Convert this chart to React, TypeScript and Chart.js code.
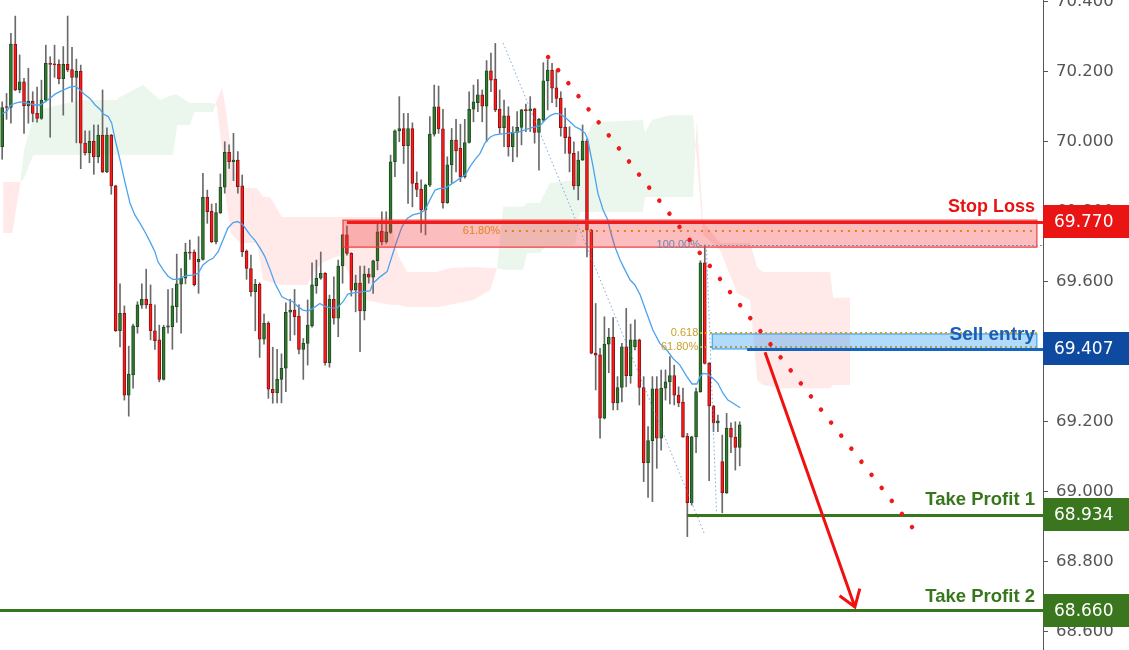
import React, { useEffect, useRef } from 'react';
import { Chart, registerables } from 'chart.js';

Chart.register(...registerables);

// ---------- candle data (one entry per bar, left to right) ----------
const OPEN = [
  69.985, 70.098, 70.097, 70.278, 70.147, 70.170, 70.102, 70.115, 70.080, 70.066,
  70.118, 70.223, 70.220, 70.220, 70.179, 70.220, 70.205, 70.183, 70.200, 69.995,
  69.968, 70.000, 69.956, 70.018, 69.913, 70.018, 69.873, 69.459, 69.509, 69.275,
  69.333, 69.471, 69.532, 69.549, 69.535, 69.459, 69.433, 69.320, 69.469, 69.471,
  69.528, 69.592, 69.609, 69.684, 69.684, 69.656, 69.663, 69.840, 69.801, 69.713,
  69.796, 69.869, 69.969, 69.942, 69.947, 69.873, 69.687, 69.637, 69.571, 69.592,
  69.435, 69.480, 69.292, 69.282, 69.320, 69.352, 69.512, 69.518, 69.501, 69.406,
  69.423, 69.473, 69.588, 69.609, 69.623, 69.368, 69.549, 69.495, 69.644, 69.733,
  69.680, 69.575, 69.595, 69.516, 69.621, 69.612, 69.659, 69.744, 69.713, 69.740,
  69.942, 70.030, 70.037, 69.988, 70.037, 69.880, 69.863, 69.804, 69.875, 70.021,
  70.099, 70.036, 69.825, 69.933, 70.004, 69.980, 69.899, 69.997, 70.092, 70.111,
  70.133, 70.101, 70.202, 70.178, 70.092, 70.039, 70.073, 69.985, 70.026, 70.040,
  70.090, 70.088, 70.093, 70.026, 70.061, 70.173, 70.204, 70.153, 70.123, 70.041,
  70.013, 69.966, 69.873, 69.947, 70.001, 69.747, 69.395, 69.390, 69.209, 69.421,
  69.440, 69.253, 69.297, 69.413, 69.331, 69.413, 69.433, 69.297, 69.082, 69.145,
  69.293, 69.152, 69.295, 69.313, 69.331, 69.275, 69.255, 69.158, 68.968, 69.156,
  69.285, 69.653, 69.366, 69.244, 69.196, 69.085, 68.996, 69.180, 69.155, 69.126,
];
const HIGH = [
  70.113, 70.137, 70.309, 70.358, 70.247, 70.180, 70.209, 70.142, 70.155, 70.175,
  70.275, 70.242, 70.275, 70.233, 70.271, 70.358, 70.269, 70.235, 70.218, 70.030,
  70.030, 70.047, 70.047, 70.147, 70.039, 70.020, 69.875, 69.593, 69.530, 69.415,
  69.478, 69.542, 69.593, 69.635, 69.590, 69.533, 69.475, 69.475, 69.577, 69.580,
  69.678, 69.637, 69.709, 69.718, 69.690, 69.728, 69.909, 69.861, 69.821, 69.823,
  69.907, 69.999, 69.990, 70.023, 69.971, 69.904, 69.690, 69.675, 69.606, 69.596,
  69.507, 69.485, 69.412, 69.406, 69.393, 69.539, 69.549, 69.577, 69.533, 69.437,
  69.547, 69.653, 69.661, 69.684, 69.625, 69.561, 69.613, 69.661, 69.735, 69.758,
  69.682, 69.618, 69.644, 69.644, 69.637, 69.661, 69.771, 69.799, 69.799, 69.961,
  70.033, 70.128, 70.080, 70.080, 70.053, 69.913, 69.890, 69.878, 70.071, 70.161,
  70.158, 70.092, 69.956, 70.037, 70.063, 70.049, 70.063, 70.142, 70.161, 70.177,
  70.147, 70.231, 70.252, 70.280, 70.147, 70.118, 70.099, 70.042, 70.085, 70.092,
  70.107, 70.128, 70.095, 70.066, 70.225, 70.233, 70.223, 70.204, 70.142, 70.095,
  70.042, 69.999, 69.971, 70.047, 70.007, 69.749, 69.537, 69.409, 69.499, 69.466,
  69.497, 69.328, 69.423, 69.523, 69.478, 69.490, 69.435, 69.328, 69.185, 69.328,
  69.328, 69.347, 69.347, 69.385, 69.361, 69.299, 69.295, 69.166, 69.158, 69.295,
  69.659, 69.704, 69.368, 69.246, 69.218, 69.161, 69.223, 69.196, 69.199, 69.199,
];
const LOW = [
  69.949, 70.063, 70.052, 70.145, 70.139, 70.023, 70.052, 70.056, 70.055, 70.063,
  70.113, 70.012, 70.183, 70.164, 70.075, 70.199, 70.113, 69.996, 69.922, 69.961,
  69.939, 69.906, 69.939, 69.911, 69.911, 69.849, 69.457, 69.413, 69.261, 69.215,
  69.295, 69.452, 69.523, 69.523, 69.433, 69.406, 69.313, 69.318, 69.452, 69.406,
  69.483, 69.452, 69.593, 69.663, 69.587, 69.566, 69.661, 69.766, 69.711, 69.707,
  69.794, 69.852, 69.923, 69.888, 69.852, 69.671, 69.606, 69.558, 69.459, 69.383,
  69.421, 69.266, 69.252, 69.253, 69.253, 69.285, 69.431, 69.447, 69.393, 69.320,
  69.361, 69.469, 69.566, 69.606, 69.361, 69.355, 69.478, 69.442, 69.595, 69.675,
  69.558, 69.513, 69.399, 69.490, 69.595, 69.566, 69.633, 69.704, 69.709, 69.737,
  69.899, 69.999, 69.937, 69.823, 69.813, 69.842, 69.740, 69.733, 69.871, 70.015,
  70.023, 69.809, 69.823, 69.880, 69.913, 69.885, 69.895, 69.995, 70.056, 70.085,
  70.056, 69.999, 70.142, 70.085, 70.023, 69.985, 69.958, 69.942, 69.956, 69.990,
  70.028, 70.028, 69.995, 69.918, 70.056, 70.090, 70.111, 70.099, 70.015, 69.966,
  69.913, 69.863, 69.833, 69.945, 69.670, 69.393, 69.290, 69.152, 69.207, 69.339,
  69.233, 69.233, 69.256, 69.299, 69.309, 69.404, 69.247, 69.028, 68.983, 68.971,
  69.066, 69.118, 69.261, 69.250, 69.247, 69.242, 69.154, 68.871, 68.961, 69.111,
  69.283, 69.364, 69.031, 69.171, 69.171, 68.939, 68.994, 69.111, 69.061, 69.073,
];
const CLOSE = [
  70.097, 70.097, 70.278, 70.147, 70.170, 70.102, 70.115, 70.080, 70.066, 70.118,
  70.223, 70.220, 70.219, 70.179, 70.220, 70.205, 70.183, 70.200, 69.995, 69.968,
  70.000, 69.956, 70.018, 69.913, 70.018, 69.873, 69.459, 69.509, 69.275, 69.335,
  69.473, 69.533, 69.549, 69.533, 69.459, 69.431, 69.320, 69.469, 69.473, 69.530,
  69.593, 69.609, 69.684, 69.681, 69.591, 69.663, 69.840, 69.799, 69.713, 69.797,
  69.869, 69.969, 69.942, 69.947, 69.871, 69.685, 69.637, 69.571, 69.592, 69.435,
  69.480, 69.292, 69.282, 69.320, 69.352, 69.512, 69.518, 69.499, 69.406, 69.423,
  69.475, 69.590, 69.609, 69.623, 69.368, 69.549, 69.495, 69.644, 69.733, 69.680,
  69.575, 69.595, 69.516, 69.621, 69.612, 69.659, 69.742, 69.713, 69.742, 69.942,
  70.030, 70.037, 69.988, 70.037, 69.880, 69.863, 69.804, 69.875, 70.021, 70.099,
  70.036, 69.825, 69.933, 70.004, 69.973, 69.899, 69.997, 70.092, 70.113, 70.133,
  70.101, 70.202, 70.175, 70.090, 70.039, 70.073, 69.985, 70.026, 70.040, 70.090,
  70.088, 70.093, 70.026, 70.063, 70.173, 70.204, 70.152, 70.123, 70.039, 70.011,
  69.966, 69.873, 69.947, 70.001, 69.747, 69.395, 69.389, 69.209, 69.421, 69.440,
  69.253, 69.297, 69.413, 69.331, 69.433, 69.433, 69.297, 69.082, 69.145, 69.293,
  69.152, 69.295, 69.313, 69.331, 69.275, 69.253, 69.156, 68.968, 69.156, 69.285,
  69.653, 69.366, 69.244, 69.196, 69.202, 68.996, 69.180, 69.155, 69.126, 69.190,
];

// ---------- moving average (bar index, price) ----------
const MA_POINTS = [
  [0.1, 70.080], [1.0, 70.085], [1.8, 70.101], [2.9, 70.109], [4.1, 70.113], [5.2, 70.111],
  [6.4, 70.107], [7.5, 70.104], [8.7, 70.104], [9.8, 70.113], [11.0, 70.123], [12.1, 70.135],
  [13.2, 70.142], [14.4, 70.149], [15.5, 70.155], [16.9, 70.158], [17.8, 70.147], [19.0, 70.133],
  [20.1, 70.123], [21.3, 70.104], [22.4, 70.092], [23.2, 70.078], [24.3, 70.071], [25.1, 70.052],
  [25.9, 70.004], [27.0, 69.947], [28.1, 69.885], [29.3, 69.823], [30.4, 69.790], [31.6, 69.766],
  [32.7, 69.742], [33.9, 69.713], [35.0, 69.685], [35.7, 69.656], [36.9, 69.633], [38.0, 69.615],
  [39.1, 69.606], [40.3, 69.606], [41.4, 69.613], [42.6, 69.617], [43.7, 69.618], [44.9, 69.623],
  [46.0, 69.647], [47.2, 69.659], [48.3, 69.666], [49.5, 69.685], [50.6, 69.718], [51.7, 69.752],
  [52.9, 69.768], [54.0, 69.771], [55.2, 69.761], [56.8, 69.733], [57.9, 69.718], [59.1, 69.695],
  [60.2, 69.671], [61.4, 69.633], [62.5, 69.595], [64.1, 69.556], [65.2, 69.549], [66.6, 69.542],
  [67.8, 69.528], [68.9, 69.518], [70.1, 69.515], [71.2, 69.523], [72.8, 69.537], [74.0, 69.528],
  [75.1, 69.525], [76.7, 69.523], [78.1, 69.542], [79.2, 69.564], [80.8, 69.568], [82.7, 69.571],
  [84.3, 69.573], [85.0, 69.595], [86.6, 69.613], [88.2, 69.628], [89.3, 69.671], [90.5, 69.718],
  [91.6, 69.756], [92.8, 69.780], [94.1, 69.790], [95.7, 69.795], [96.9, 69.804], [98.0, 69.833],
  [99.2, 69.861], [100.3, 69.866], [101.5, 69.866], [102.6, 69.875], [103.8, 69.885], [104.9, 69.895],
  [106.1, 69.904], [107.2, 69.928], [108.3, 69.947], [109.5, 69.966], [110.6, 69.995], [111.8, 70.012],
  [112.9, 70.019], [114.1, 70.021], [115.7, 70.023], [117.1, 70.025], [118.7, 70.028], [120.3, 70.035],
  [121.6, 70.040], [123.2, 70.044], [124.4, 70.061], [125.5, 70.073], [126.7, 70.080], [127.8, 70.078],
  [129.0, 70.069], [130.1, 70.056], [131.3, 70.042], [132.4, 70.035], [133.6, 70.023], [134.2, 70.004],
  [135.4, 69.928], [136.5, 69.852], [137.7, 69.804], [138.8, 69.775], [139.3, 69.747], [140.4, 69.699],
  [141.6, 69.661], [142.7, 69.633], [143.9, 69.604], [145.0, 69.590], [146.2, 69.561], [147.7, 69.509],
  [149.1, 69.461], [150.7, 69.423], [152.3, 69.404], [153.7, 69.380], [155.3, 69.361], [156.9, 69.328],
  [158.1, 69.307], [159.2, 69.307], [159.9, 69.328], [160.6, 69.337], [161.7, 69.335], [162.9, 69.323],
  [164.0, 69.309], [165.2, 69.280], [166.3, 69.261], [167.5, 69.252], [169.1, 69.239],
];

// ---------- Ichimoku cloud (bar index, span A, span B) ----------
const CLOUD = [
  [0.2, 69.738, 69.884], [2.3, 69.738, 69.884], [4.1, 69.875, 69.884], [5.0, 69.975, 69.895],
  [7.1, 70.067, 69.961], [9.8, 70.095, 69.961], [17.8, 70.118, 69.961], [26.3, 70.118, 69.961],
  [26.6, 70.124, 69.961], [32.3, 70.161, 69.961], [36.2, 70.118, 69.961], [39.1, 70.133, 69.961],
  [40.1, 70.133, 70.047], [43.0, 70.110, 70.047], [44.0, 70.110, 70.084], [48.3, 70.110, 70.084],
  [49.2, 70.101, 70.118], [50.4, 69.975, 70.153], [51.3, 69.833, 70.090], [52.4, 69.738, 69.975],
  [54.5, 69.710, 69.867], [58.4, 69.710, 69.867], [59.8, 69.604, 69.841], [61.4, 69.598, 69.841],
  [64.1, 69.590, 69.784], [69.9, 69.590, 69.784], [71.7, 69.633, 69.784], [73.5, 69.655, 69.784],
  [77.4, 69.675, 69.784], [78.1, 69.655, 69.784], [80.9, 69.590, 69.784], [83.1, 69.547, 69.784],
  [88.9, 69.533, 69.784], [90.7, 69.533, 69.675], [92.8, 69.527, 69.627], [99.6, 69.527, 69.627],
  [102.6, 69.533, 69.638], [107.9, 69.547, 69.641], [111.8, 69.575, 69.638], [113.4, 69.638, 69.638],
  [114.8, 69.813, 69.633], [119.4, 69.813, 69.633], [120.3, 69.824, 69.681], [123.2, 69.824, 69.681],
  [124.4, 69.853, 69.698], [125.5, 69.881, 69.698], [131.3, 69.890, 69.704], [132.4, 69.975, 69.798],
  [135.4, 70.055, 69.798], [146.8, 70.061, 69.798], [147.3, 70.024, 69.841], [148.9, 70.061, 69.841],
  [153.0, 70.075, 69.841], [158.3, 70.075, 69.841], [159.2, 69.947, 70.061], [160.6, 69.733, 69.770],
  [164.5, 69.690, 69.710], [168.4, 69.567, 69.710], [171.4, 69.547, 69.710], [173.0, 69.318, 69.641],
  [174.3, 69.304, 69.627], [178.2, 69.295, 69.627], [189.7, 69.295, 69.627], [190.4, 69.304, 69.553],
  [194.3, 69.304, 69.553],
];

// ---------- trade plan levels ----------
const STOP_LOSS = 69.770;
const SELL_ENTRY = 69.407;
const TAKE_PROFIT_1 = 68.934;
const TAKE_PROFIT_2 = 68.660;
const LEVEL_LABELS = ['Stop Loss', 'Sell entry', 'Take Profit 1', 'Take Profit 2'];

// fib zones: [start index, top, bottom]
const FIB_ZONE_RED = [78.1, 69.775, 69.698];
const FIB_RED_618 = 69.744;
const FIB_100 = 69.704;
const FIB_ZONE_BLUE = [162.7, 69.450, 69.407];
const FIB_BLUE_0618 = 69.453;
const FIB_BLUE_6180 = 69.413;

// drawn lines: [index, price] pairs
const RED_TREND = [[125.1, 70.241], [208.5, 68.898]];
const FIB_TREND_1 = [[114.8, 70.281], [161.05, 68.875]];
const FIB_TREND_2 = [[161.4, 69.690], [163.7, 68.937]];
const ARROW = [[174.8, 69.398], [195.4, 68.670]];

const Y_MIN = 68.547;
const Y_MAX = 70.404;
const X_MIN = -0.5;
const X_MAX = 238.5;
const ZONE_END = 237.1;

const SANS = "'Liberation Sans', Arial, sans-serif";
const AXIS_FONT = "'DejaVu Sans', Verdana, sans-serif";

const annotationPlugin = {
  id: 'tradeAnnotations',
  afterDatasetsDraw(chart: any) {
    const { ctx, chartArea: a, scales } = chart;
    const px = (v: number) => scales.x.getPixelForValue(v);
    const py = (v: number) => scales.y.getPixelForValue(v);
    ctx.save();
    ctx.beginPath();
    ctx.rect(a.left, a.top, a.right - a.left, a.bottom - a.top);
    ctx.clip();

    const hline = (x1: number, x2: number, yv: number, color: string, w: number, dash: number[]) => {
      ctx.beginPath();
      ctx.setLineDash(dash);
      ctx.strokeStyle = color;
      ctx.lineWidth = w;
      const yy = Math.round(py(yv)) + (w % 2 ? 0.5 : 0);
      ctx.moveTo(x1, yy);
      ctx.lineTo(x2, yy);
      ctx.stroke();
      ctx.setLineDash([]);
    };

    // red fib zone
    {
      const x0 = px(FIB_ZONE_RED[0]);
      const x1 = px(ZONE_END);
      const y0 = py(FIB_ZONE_RED[1]);
      const y1 = py(FIB_ZONE_RED[2]);
      ctx.fillStyle = 'rgba(242,54,54,0.33)';
      ctx.fillRect(x0, y0, x1 - x0, y1 - y0);
      ctx.strokeStyle = '#f23a3a';
      ctx.lineWidth = 1.2;
      ctx.strokeRect(x0, y0, x1 - x0, y1 - y0);
      hline(px(115.2), x1, FIB_RED_618, '#e0841e', 2, [2, 5]);
      ctx.font = `11px ${SANS}`;
      ctx.fillStyle = '#e0841e';
      ctx.textAlign = 'right';
      ctx.textBaseline = 'middle';
      ctx.fillText('61.80%', px(114.1), py(FIB_RED_618));
    }
    // 100% line
    hline(px(159.9), a.right, FIB_100, '#7f8fb8', 1, [2, 2]);
    ctx.font = `11px ${SANS}`;
    ctx.fillStyle = '#7384b0';
    ctx.textAlign = 'right';
    ctx.textBaseline = 'middle';
    ctx.fillText('100.00%', px(159.9), py(FIB_100));

    // blue sell zone
    {
      const x0 = px(FIB_ZONE_BLUE[0]);
      const x1 = px(ZONE_END);
      const y0 = py(FIB_ZONE_BLUE[1]);
      const y1 = py(FIB_ZONE_BLUE[2]);
      ctx.fillStyle = 'rgba(33,150,243,0.35)';
      ctx.fillRect(x0, y0, x1 - x0, y1 - y0);
      ctx.strokeStyle = '#2196f3';
      ctx.lineWidth = 1;
      ctx.strokeRect(x0, y0, x1 - x0, y1 - y0);
      hline(px(159.9), x1, FIB_BLUE_0618, '#c9a52c', 2, [2, 3]);
      hline(px(159.9), x1, FIB_BLUE_6180, '#a9a050', 2, [2, 3]);
      ctx.font = `11px ${SANS}`;
      ctx.fillStyle = '#c9a227';
      ctx.textAlign = 'right';
      ctx.fillText('0.618', px(159.5), py(FIB_BLUE_0618));
      ctx.fillText('61.80%', px(159.5), py(FIB_BLUE_6180));
    }

    // fib trend dotted lines
    const seg = (pts: number[][], color: string, w: number, dash: number[], cap: CanvasLineCap) => {
      ctx.beginPath();
      ctx.setLineDash(dash);
      ctx.lineCap = cap;
      ctx.strokeStyle = color;
      ctx.lineWidth = w;
      ctx.moveTo(px(pts[0][0]), py(pts[0][1]));
      ctx.lineTo(px(pts[1][0]), py(pts[1][1]));
      ctx.stroke();
      ctx.setLineDash([]);
      ctx.lineCap = 'butt';
    };
    seg(FIB_TREND_1, 'rgba(80,140,220,0.75)', 1, [1.5, 2.5], 'butt');
    seg(FIB_TREND_2, 'rgba(80,140,220,0.75)', 1, [1.5, 2.5], 'butt');

    // level lines
    hline(px(79.0), a.right, STOP_LOSS, '#f01c1c', 3, []);
    hline(px(170.7), a.right, SELL_ENTRY, '#1565c0', 3, []);
    hline(px(156.9), a.right, TAKE_PROFIT_1, '#38761d', 3, []);
    hline(a.left, a.right, TAKE_PROFIT_2, '#38761d', 3, []);

    // red dotted trend line
    seg(RED_TREND, '#f01818', 4.5, [0.01, 16.5], 'round');

    // arrow
    {
      const x0 = px(ARROW[0][0]);
      const y0 = py(ARROW[0][1]);
      const x1 = px(ARROW[1][0]);
      const y1 = py(ARROW[1][1]);
      ctx.strokeStyle = '#f01010';
      ctx.lineWidth = 3;
      ctx.beginPath();
      ctx.moveTo(x0, y0);
      ctx.lineTo(x1, y1);
      const ang = Math.atan2(y1 - y0, x1 - x0);
      const L = 19;
      ctx.moveTo(x1 + L * Math.cos(ang + Math.PI - 0.6), y1 + L * Math.sin(ang + Math.PI - 0.6));
      ctx.lineTo(x1, y1);
      ctx.lineTo(x1 + L * Math.cos(ang + Math.PI + 0.6), y1 + L * Math.sin(ang + Math.PI + 0.6));
      ctx.stroke();
    }

    // level texts
    ctx.textAlign = 'right';
    ctx.textBaseline = 'middle';
    const tx = a.right - 8;
    ctx.font = `bold 18px ${SANS}`;
    ctx.fillStyle = '#e81212';
    ctx.fillText(LEVEL_LABELS[0], tx, py(STOP_LOSS) - 15);
    ctx.font = `bold 19px ${SANS}`;
    ctx.fillStyle = '#1a5fb4';
    ctx.fillText(LEVEL_LABELS[1], tx, py(SELL_ENTRY) - 14);
    ctx.font = `bold 18.5px ${SANS}`;
    ctx.fillStyle = '#38761d';
    ctx.fillText(LEVEL_LABELS[2], tx, py(TAKE_PROFIT_1) - 15);
    ctx.fillText(LEVEL_LABELS[3], tx, py(TAKE_PROFIT_2) - 14);
    ctx.restore();
  },
  afterDraw(chart: any) {
    const { ctx, chartArea: a, scales, width } = chart;
    const py = (v: number) => scales.y.getPixelForValue(v);
    const boxes: [number, string][] = [
      [STOP_LOSS, '#ea1414'],
      [SELL_ENTRY, '#0e4aa0'],
      [TAKE_PROFIT_1, '#3a761e'],
      [TAKE_PROFIT_2, '#3a761e'],
    ];
    ctx.save();
    for (const [v, c] of boxes) {
      const yc = py(v);
      ctx.fillStyle = c;
      ctx.fillRect(a.right, Math.round(yc - 16.5), width - a.right, 33);
      ctx.fillStyle = '#ffffff';
      ctx.font = `17px ${AXIS_FONT}`;
      ctx.textAlign = 'left';
      ctx.textBaseline = 'middle';
      ctx.fillText(v.toFixed(3), a.right + 11, yc + 1);
    }
    ctx.restore();
  },
};

export default function App() {
  const ref = useRef<HTMLCanvasElement>(null);
  useEffect(() => {
    if (!ref.current) return;
    const idx = OPEN.map((_, i) => i);
    const up = idx.map((i) => CLOSE[i] >= OPEN[i]);
    const chart = new Chart(ref.current, {
      type: 'bar',
      data: {
        datasets: [
          {
            type: 'line',
            label: 'spanA',
            data: CLOUD.map((p) => ({ x: p[0], y: p[1] })),
            borderColor: 'transparent',
            borderWidth: 0,
            pointRadius: 0,
            tension: 0,
            fill: { target: '+1', above: 'rgba(76,175,80,0.11)', below: 'rgba(255,82,82,0.13)' },
            order: 20,
          } as any,
          {
            type: 'line',
            label: 'spanB',
            data: CLOUD.map((p) => ({ x: p[0], y: p[2] })),
            borderColor: 'transparent',
            borderWidth: 0,
            pointRadius: 0,
            tension: 0,
            fill: false,
            order: 21,
          } as any,
          {
            type: 'bar',
            label: 'wicks',
            data: idx.map((i) => ({ x: i, y: [LOW[i], HIGH[i]] })),
            backgroundColor: '#6a6a6a',
            borderWidth: 0,
            barThickness: 1,
            grouped: false,
            order: 6,
          } as any,
          {
            type: 'bar',
            label: 'bodies',
            data: idx.map((i) => ({ x: i, y: [OPEN[i], CLOSE[i]] })),
            backgroundColor: up.map((u) => (u ? '#2f7a2f' : '#ff1a1a')),
            borderColor: up.map((u) => (u ? '#1d4a1d' : '#8a1212')),
            borderWidth: 1,
            borderSkipped: false,
            barThickness: 3,
            minBarLength: 1,
            grouped: false,
            order: 5,
          } as any,
          {
            type: 'line',
            label: 'MA',
            data: MA_POINTS.map((p) => ({ x: p[0], y: p[1] })),
            borderColor: '#4aa3f0',
            borderWidth: 1.3,
            pointRadius: 0,
            tension: 0,
            fill: false,
            order: 1,
          } as any,
        ],
      },
      options: {
        animation: false,
        responsive: false,
        maintainAspectRatio: false,
        layout: { padding: 0, autoPadding: false } as any,
        plugins: { legend: { display: false }, tooltip: { enabled: false } },
        scales: {
          x: {
            type: 'linear',
            min: X_MIN,
            max: X_MAX,
            offset: false,
            display: false,
          },
          y: {
            type: 'linear',
            position: 'right',
            min: Y_MIN,
            max: Y_MAX,
            beginAtZero: false,
            afterFit: (s: any) => {
              s.width = 86;
              s.paddingTop = 0;
              s.paddingBottom = 0;
            },
            grid: { display: true, drawOnChartArea: false, drawTicks: true, tickLength: 5, color: '#555' },
            border: { display: true, color: '#555', width: 1 },
            ticks: {
              stepSize: 0.2,
              includeBounds: false,
              autoSkip: false,
              padding: 8,
              color: '#555',
              font: { family: AXIS_FONT, size: 16.5 },
              callback: (v: any) => Number(v).toFixed(3),
            },
          } as any,
        },
      },
      plugins: [annotationPlugin],
    });
    return () => chart.destroy();
  }, []);
  return (
    <div style={{ position: 'fixed', left: 0, top: 0, width: 1129, height: 650, background: '#fff' }}>
      <canvas ref={ref} width={1129} height={650} style={{ display: 'block', width: 1129, height: 650 }} />
    </div>
  );
}
